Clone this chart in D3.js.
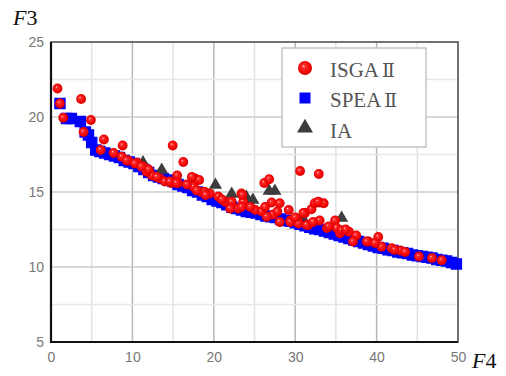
<!DOCTYPE html>
<html><head><meta charset="utf-8">
<script src="https://cdn.jsdelivr.net/npm/d3@7"></script>
<style>body{margin:0;background:#fff}svg{display:block}</style>
</head><body>
<svg id="c" width="506" height="376"></svg>
<script>
const xTicks = [0,10,20,30,40,50];
const yTicks = [5,10,15,20,25];
const seriesNames = ["ISGA","SPEA","IA"];
const seriesSuffix = ["Ⅱ","Ⅱ",""];

const speaX = [1.1,1.9,2.5,3.6,4.2,4.6,5.0,5.5,6.0,6.6,7.2,7.8,8.4,9.0,9.6,10.2,10.8,11.4,12.0,12.6,13.2,13.8,14.4,15.0,15.6,16.2,16.8,17.4,18.0,18.6,19.2,19.8,20.4,21.0,21.6,22.2,22.8,23.4,24.0,24.6,25.2,25.8,26.4,27.0,27.6,28.2,28.8,29.4,30.0,30.6,31.2,31.8,32.4,33.0,33.6,34.2,34.8,35.4,36.0,36.6,37.2,37.8,38.4,39.0,39.6,40.2,40.8,41.4,42.0,42.6,43.2,43.8,44.4,45.0,45.6,46.2,46.8,47.4,48.0,48.6,49.2,49.8];
const speaY = [20.9,19.9,19.9,19.7,19.0,18.8,18.3,17.8,17.7,17.6,17.5,17.4,17.3,17.1,17.0,16.9,16.7,16.5,16.3,16.1,16.0,15.9,15.8,15.7,15.5,15.4,15.3,15.1,15.0,14.8,14.7,14.5,14.4,14.3,14.15,14.0,13.9,13.8,13.7,13.65,13.6,13.5,13.4,13.35,13.3,13.2,13.1,13.05,12.95,12.85,12.75,12.65,12.55,12.5,12.4,12.3,12.2,12.1,12.0,11.9,11.8,11.7,11.6,11.5,11.4,11.3,11.25,11.15,11.1,11.0,10.95,10.9,10.8,10.75,10.7,10.65,10.6,10.5,10.45,10.4,10.3,10.2];

const iaX = [11.3,13.6,20.2,22.2,24.0,24.8,26.8,27.5,30.8,35.7];
const iaY = [16.9,16.4,15.4,14.8,14.6,14.4,15.0,15.0,13.3,13.2];

const isgaX = [0.8,1.1,3.7,1.5,4.9,4.0,6.5,6.1,8.8,7.7,8.7,9.5,10.6,11.3,12.0,12.4,14.95,16.25,13.4,14.0,14.8,15.5,15.6,11.75,17.7,18.2,17.5,18.5,19.5,17.9,18.9,20.55,21.4,22.2,23.4,23.6,23.0,22.0,30.6,32.9,26.2,26.8,23.5,23.4,25.1,25.9,26.3,27.1,28.1,27.3,26.5,29.2,29.4,31.2,32.0,32.4,33.0,33.5,30.4,31.6,33.0,33.9,34.9,35.1,35.5,31.0,36.6,37.5,37.1,39.0,40.2,40.6,41.85,42.9,43.5,45.2,46.8,48.0,38.8,39.8,
  9.3,10.3,11.1,12.0,14.6,15.4,16.7,17.3,28.1,29.4,30.4,31.4,32.8,32.2,34.1,35.7,30.0,27.8,24.5,21.0,19.0,13.0,42.2,36.2];
const isgaY = [21.9,20.9,21.2,19.95,19.8,19.0,18.5,17.8,18.1,17.6,17.35,17.1,16.95,16.7,16.4,16.1,18.1,17.0,15.9,15.7,15.6,16.1,15.6,16.35,15.9,15.8,15.35,15.0,14.9,15.1,15.0,14.7,14.35,14.35,14.9,14.35,13.9,13.9,16.4,16.2,15.6,15.85,14.8,14.0,13.8,13.7,14.0,14.3,14.25,13.5,13.35,13.8,13.1,13.6,13.85,14.25,14.3,14.25,13.0,12.8,13.1,12.6,13.1,12.6,12.25,13.6,12.35,12.1,11.7,11.7,12.0,11.35,11.25,11.1,11.0,10.7,10.6,10.45,11.7,11.6,
  17.1,16.9,16.7,16.5,15.7,15.6,15.5,16.0,13.0,13.0,12.9,12.8,14.35,13.0,12.7,12.45,13.3,13.7,14.0,14.5,14.8,16.0,11.15,12.5];

const svg = d3.select("#c");
const m = {l:51, r:458, t:42, b:342};
const x = d3.scaleLinear().domain([0,50]).range([m.l,m.r]);
const y = d3.scaleLinear().domain([5,25]).range([m.b,m.t]);

const defs = svg.append("defs");
const g1 = defs.append("radialGradient").attr("id","rg").attr("cx","0.5").attr("cy","0.5").attr("r","0.6").attr("fx","0.38").attr("fy","0.35");
g1.append("stop").attr("offset","0").attr("stop-color","#ffe0e0");
g1.append("stop").attr("offset","0.18").attr("stop-color","#ff3030");
g1.append("stop").attr("offset","0.7").attr("stop-color","#ee0000");
g1.append("stop").attr("offset","1").attr("stop-color","#c00000");

// grid
const gx = svg.append("g");
d3.range(5,50,5).forEach(v=>{
  gx.append("line").attr("x1",x(v)).attr("x2",x(v)).attr("y1",m.t).attr("y2",m.b)
    .attr("stroke", v%10===0 ? "#b8b8b8" : "#e2e2e2").attr("stroke-width",1.5);
});
d3.range(7.5,25,2.5).forEach(v=>{
  gx.append("line").attr("y1",y(v)).attr("y2",y(v)).attr("x1",m.l).attr("x2",m.r)
    .attr("stroke", v%5===0 ? "#cccccc" : "#e6e6e6").attr("stroke-width",1.5);
});

// axes via d3
const xa = svg.append("g").attr("transform",`translate(0,${m.b})`)
  .call(d3.axisBottom(x).tickValues(xTicks).tickSize(0).tickPadding(10));
const ya = svg.append("g").attr("transform",`translate(${m.l},0)`)
  .call(d3.axisLeft(y).tickValues(yTicks).tickSize(0).tickPadding(7));
[xa,ya].forEach(a=>{
  a.select(".domain").remove();
  a.selectAll("text").attr("font-family","Liberation Sans, Arial, sans-serif").attr("font-size",14).attr("fill","#777");
});

// frame
svg.append("rect").attr("x",m.l).attr("y",m.t).attr("width",m.r-m.l).attr("height",m.b-m.t)
  .attr("fill","none").attr("stroke","#444").attr("stroke-width",1.5);
svg.append("line").attr("x1",m.l).attr("x2",m.l).attr("y1",m.t).attr("y2",m.b+1).attr("stroke","#111").attr("stroke-width",2.2);
svg.append("line").attr("x1",m.l-1).attr("x2",m.r).attr("y1",m.b).attr("y2",m.b).attr("stroke","#111").attr("stroke-width",2.2);

const spea = speaX.map((v,i)=>({x:v,y:speaY[i]}));
const ia = iaX.map((v,i)=>({x:v,y:iaY[i]}));
const isga = isgaX.map((v,i)=>({x:v,y:isgaY[i]}));

const s = 11.5;
svg.append("g").selectAll("rect").data(spea).join("rect")
  .attr("x",d=>x(d.x)-s/2).attr("y",d=>y(d.y)-s/2).attr("width",s).attr("height",s)
  .attr("fill","#0000ff");

const tri = d3.symbol().type(d3.symbolTriangle).size(75);
svg.append("g").selectAll("path").data(ia).join("path")
  .attr("d",tri).attr("transform",d=>`translate(${x(d.x)},${y(d.y)-1})`).attr("fill","#3c3c3c");

svg.append("g").selectAll("circle").data(isga).join("circle")
  .attr("cx",d=>x(d.x)).attr("cy",d=>y(d.y)).attr("r",4.9).attr("fill","url(#rg)");

// legend
const lg = svg.append("g");
lg.append("rect").attr("x",282).attr("y",48).attr("width",144).attr("height",99)
  .attr("fill","#fff").attr("stroke","#c4c4c4").attr("stroke-width",1.5);
lg.append("circle").attr("cx",305).attr("cy",68).attr("r",7).attr("fill","url(#rg)");
lg.append("rect").attr("x",299.5).attr("y",92.5).attr("width",11).attr("height",11).attr("fill","#0000ff");
lg.append("path").attr("d",d3.symbol().type(d3.symbolTriangle).size(110)).attr("transform","translate(305,128)").attr("fill","#3c3c3c");
const ly = [77,107,138];
seriesNames.forEach((n,i)=>{
  const t = lg.append("text").attr("x",330).attr("y",ly[i])
    .attr("font-family","Liberation Serif, Times New Roman, serif").attr("font-size",21).attr("fill","#555");
  t.append("tspan").text(n);
  if (seriesSuffix[i]) t.append("tspan").attr("font-family","DejaVu Serif, serif").attr("font-size",19).attr("dx",3).text(seriesSuffix[i]);
});

// axis titles
const t3 = svg.append("text").attr("x",13).attr("y",25).attr("font-family","Liberation Serif, Times New Roman, serif").attr("font-size",22).attr("fill","#111");
t3.append("tspan").attr("font-style","italic").text("F");
t3.append("tspan").text("3");
const t4 = svg.append("text").attr("x",472).attr("y",368).attr("font-family","Liberation Serif, Times New Roman, serif").attr("font-size",22).attr("fill","#111");
t4.append("tspan").attr("font-style","italic").text("F");
t4.append("tspan").text("4");
</script>
</body></html>
